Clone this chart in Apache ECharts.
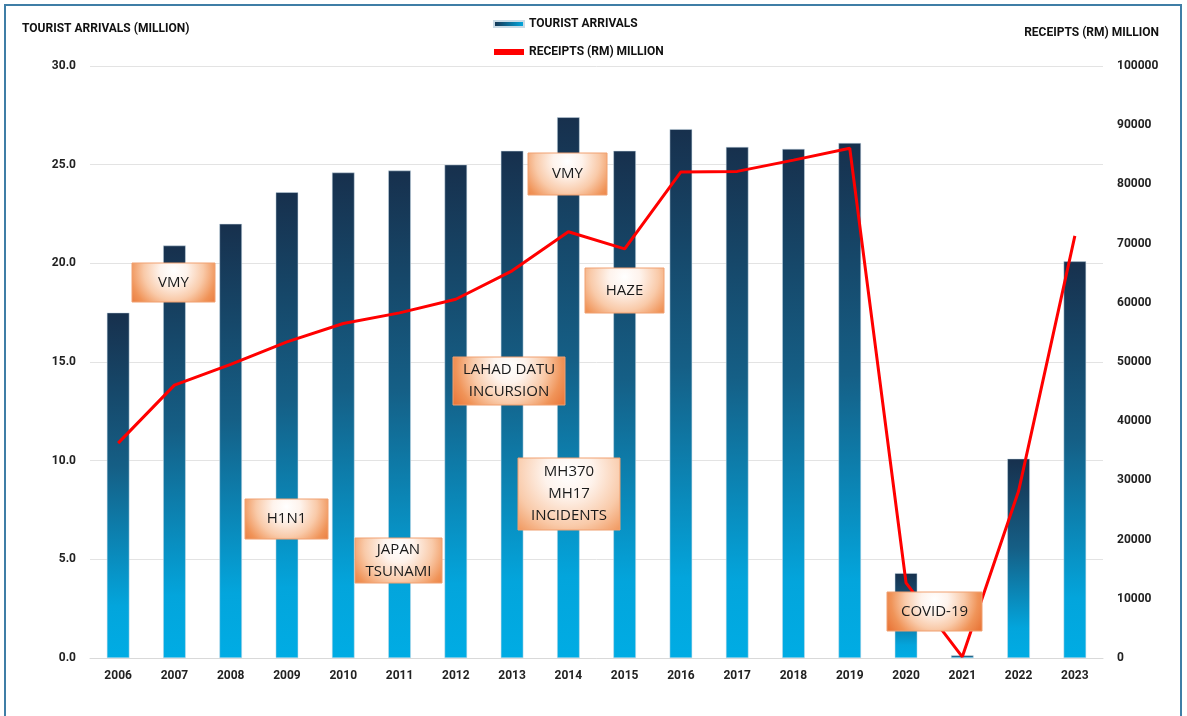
<!DOCTYPE html>
<html>
<head>
<meta charset="utf-8">
<script src="https://cdn.jsdelivr.net/npm/echarts@6/dist/echarts.min.js"></script>
<style>
  html, body { margin: 0; padding: 0; background: #fff; }
  #chart { width: 1187px; height: 716px; }
</style>
</head>
<body>
<div id="chart"></div>
<script>
// 年份与数据
const years = ['2006', '2007', '2008', '2009', '2010', '2011', '2012', '2013', '2014',
  '2015', '2016', '2017', '2018', '2019', '2020', '2021', '2022', '2023'];
const arrivals = [17.5, 20.9, 22.0, 23.6, 24.6, 24.7, 25.0, 25.7, 27.4,
  25.7, 26.8, 25.9, 25.8, 26.1, 4.3, 0.13, 10.1, 20.1];
const receipts = [36300, 46100, 49600, 53400, 56500, 58300, 60600, 65400, 72000,
  69100, 82100, 82200, 84100, 86100, 12700, 200, 28200, 71300];

// 左右轴刻度
const leftTicks = [0, 5, 10, 15, 20, 25, 30];
const rightTicks = [0, 10000, 20000, 30000, 40000, 50000, 60000, 70000, 80000, 90000, 100000];

// 注释框
const notes = [
  { text: 'VMY', x: 132, y: 263, w: 83, h: 39 },
  { text: 'H1N1', x: 245, y: 499, w: 83, h: 40 },
  { text: 'JAPAN\nTSUNAMI', x: 355, y: 538, w: 87, h: 45 },
  { text: 'LAHAD DATU\nINCURSION', x: 453, y: 357, w: 112, h: 48 },
  { text: 'MH370\nMH17\nINCIDENTS', x: 518, y: 458, w: 102, h: 72 },
  { text: 'VMY', x: 528, y: 153, w: 79, h: 42 },
  { text: 'HAZE', x: 585, y: 268, w: 79, h: 45 },
  { text: 'COVID-19', x: 887, y: 592, w: 95, h: 39 }
];

const chart = echarts.init(document.getElementById('chart'));

const barGradient = new echarts.graphic.LinearGradient(0, 0, 0, 1, [
  { offset: 0, color: '#17304d' },
  { offset: 0.45, color: '#155f86' },
  { offset: 0.85, color: '#03a5dc' },
  { offset: 1, color: '#00ace4' }
]);

// 注释框的图形元素
const boxGraphics = [];
notes.forEach(n => {
  boxGraphics.push({
    type: 'rect',
    x: n.x,
    y: n.y,
    z: 100,
    shape: { x: 0, y: 0, width: n.w, height: n.h },
    style: {
      fill: new echarts.graphic.RadialGradient(0.5, 0.2, 1.35, [
        { offset: 0, color: '#ffffff' },
        { offset: 0.25, color: '#fef3ec' },
        { offset: 0.55, color: '#f9caa9' },
        { offset: 0.8, color: '#f09459' },
        { offset: 1, color: '#e9773a' }
      ]),
      stroke: '#f0a070',
      lineWidth: 1
    }
  });
  boxGraphics.push({
    type: 'text',
    x: n.x + n.w / 2,
    y: n.y + n.h / 2,
    z: 101,
    style: {
      text: n.text,
      align: 'center',
      verticalAlign: 'middle',
      fill: '#1a1a1a',
      font: '15px "Open Sans", sans-serif',
      lineHeight: 22
    }
  });
});

const option = {
  backgroundColor: '#fff',
  animation: false,
  grid: { left: 90, right: 84, top: 66, bottom: 58 },
  legend: {
    orient: 'vertical',
    left: 488,
    top: 13,
    itemGap: 16,
    itemWidth: 30,
    itemHeight: 6,
    textStyle: { fontFamily: 'Roboto', fontWeight: 'bold', fontSize: 12, color: '#111' },
    data: [
      {
        name: 'TOURIST ARRIVALS',
        icon: 'rect',
        itemStyle: {
          color: new echarts.graphic.LinearGradient(0, 0, 1, 0, [
            { offset: 0, color: '#17304d' },
            { offset: 1, color: '#00ace4' }
          ])
        }
      },
      { name: 'RECEIPTS (RM) MILLION', icon: 'rect', itemStyle: { color: '#ff0000' } }
    ]
  },
  xAxis: {
    type: 'category',
    data: years,
    axisTick: { show: false },
    axisLine: { lineStyle: { color: '#d9d9d9' } },
    axisLabel: { color: '#222', fontFamily: 'Roboto', fontWeight: 'bold', fontSize: 12, margin: 12 }
  },
  yAxis: [
    {
      type: 'value',
      name: 'TOURIST ARRIVALS (MILLION)',
      nameLocation: 'end',
      nameGap: 31,
      nameTextStyle: { align: 'left', padding: [0, 0, 0, -68], fontFamily: 'Roboto', fontWeight: 'bold', fontSize: 12, color: '#111' },
      min: 0,
      max: leftTicks[leftTicks.length - 1],
      interval: 5,
      axisLine: { show: false },
      axisTick: { show: false },
      splitLine: { lineStyle: { color: '#e3e3e3' } },
      axisLabel: {
        color: '#222', fontFamily: 'Roboto', fontWeight: 'bold', fontSize: 12, margin: 14,
        formatter: v => v.toFixed(1)
      }
    },
    {
      type: 'value',
      name: 'RECEIPTS (RM) MILLION',
      nameLocation: 'end',
      nameGap: 27,
      nameTextStyle: { align: 'right', padding: [0, -56, 0, 0], fontFamily: 'Roboto', fontWeight: 'bold', fontSize: 12, color: '#111' },
      min: 0,
      max: rightTicks[rightTicks.length - 1],
      interval: 10000,
      axisLine: { show: false },
      axisTick: { show: false },
      splitLine: { show: false },
      axisLabel: {
        color: '#222', fontFamily: 'Roboto', fontWeight: 'bold', fontSize: 12, margin: 14,
        formatter: v => String(v)
      }
    }
  ],
  series: [
    {
      name: 'TOURIST ARRIVALS',
      type: 'bar',
      barWidth: '40%',
      data: arrivals,
      itemStyle: { color: barGradient, borderColor: '#c9dbe6', borderWidth: 0.5 }
    },
    {
      name: 'RECEIPTS (RM) MILLION',
      type: 'line',
      yAxisIndex: 1,
      data: receipts,
      symbol: 'none',
      lineStyle: { color: '#ff0000', width: 3 },
      itemStyle: { color: '#ff0000' },
      z: 5
    }
  ],
  graphic: {
    elements: [
      {
        type: 'rect',
        x: 5,
        y: 5,
        z: 200,
        shape: { x: 0, y: 0, width: 1176, height: 740 },
        style: { fill: 'none', stroke: '#3f7ea6', lineWidth: 2 },
        silent: true
      }
    ].concat(boxGraphics)
  }
};

chart.setOption(option);

window.addEventListener('resize', function () {
  chart.resize();
});
</script>
</body>
</html>
